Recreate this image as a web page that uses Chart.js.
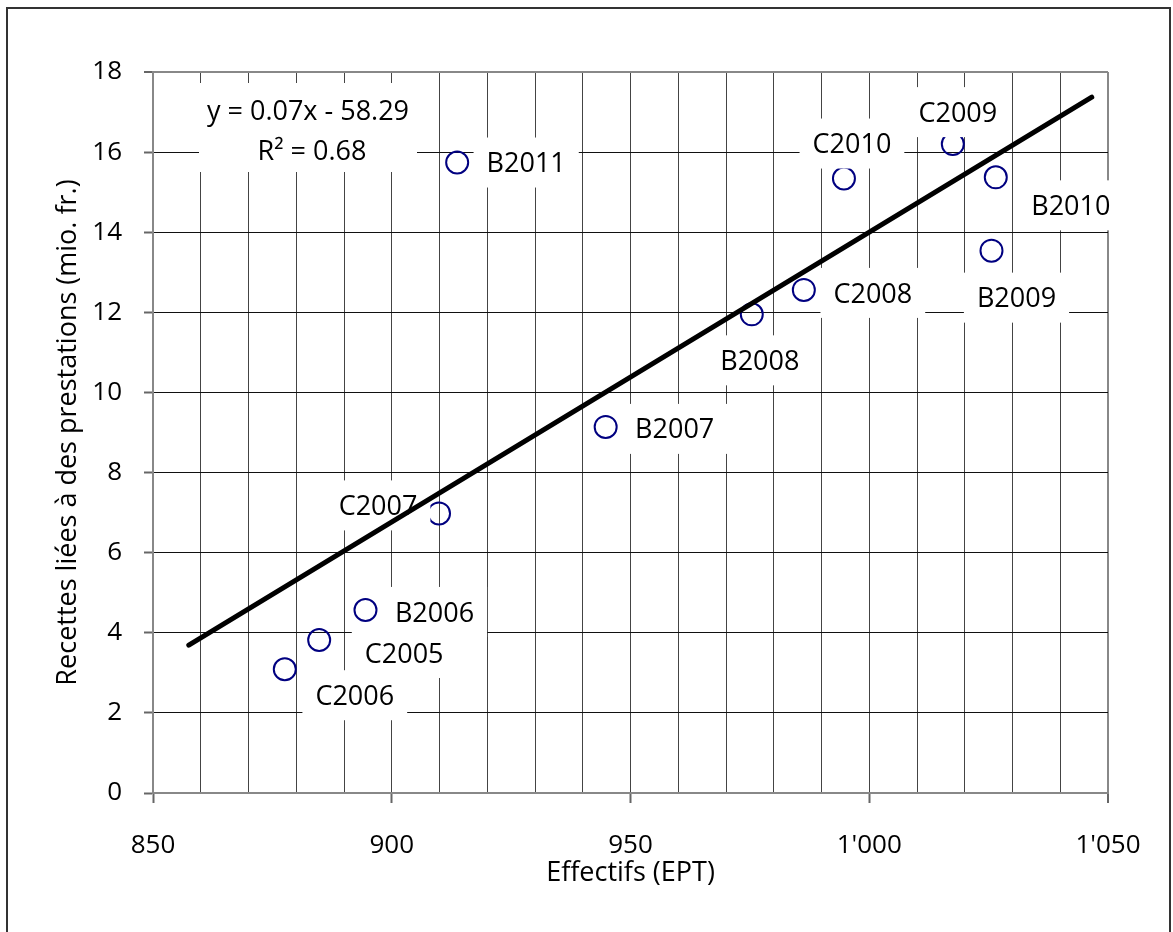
<!DOCTYPE html>
<html>
<head>
<meta charset="utf-8">
<script src="https://cdn.jsdelivr.net/npm/chart.js@4.4.1/dist/chart.umd.min.js"></script>
<style>
  html, body { margin: 0; padding: 0; background: #fff; }
  #wrap { width: 1173px; height: 932px; position: relative; }
</style>
</head>
<body>
<div id="wrap"><canvas id="chart" width="1173" height="932"></canvas></div>
<script>
// point names, effectifs (EPT) and recettes (mio. fr.)
const names = ['C2005', 'C2006', 'C2007', 'C2008', 'C2009', 'C2010',
               'B2006', 'B2007', 'B2008', 'B2009', 'B2010', 'B2011'];
const effectifs = [884.8, 877.6, 909.9, 986.3, 1017.5, 994.7,
                   894.5, 944.8, 975.4, 1025.6, 1026.5, 913.7];
const recettes = [3.82, 3.09, 6.98, 12.56, 16.20, 15.34,
                  4.57, 9.14, 11.95, 13.54, 15.37, 15.74];

// linear trend line end points
const trendX = [857.5, 1046.6];
const trendY = [3.69, 17.37];
const trendText = ['y = 0.07x - 58.29', 'R² = 0.68'];

const xTitle = 'Effectifs (EPT)';
const yTitle = 'Recettes liées à des prestations (mio. fr.)';

const FONT = '"Open Sans", "DejaVu Sans", sans-serif';

// where each label sits relative to its point (px)
const labelOffsets = {
    C2005: [85, 13], C2006: [70, 26], C2007: [-61, -8], C2008: [69, 3],
    C2009: [5, -32], C2010: [8, -35], B2006: [69, 2], B2007: [69, 2],
    B2008: [8, 46], B2009: [25, 47], B2010: [75, 28], B2011: [69, 0]
};

function fmtThousands(v) {
    const s = String(Math.round(v));
    return s.replace(/\B(?=(\d{3})+(?!\d))/g, "'");
}

function drawBoxedText(ctx, text, cx, cy) {
    ctx.font = '27px ' + FONT;
    const w = ctx.measureText(text).width;
    ctx.fillStyle = '#fff';
    ctx.fillRect(cx - w / 2 - 13, cy - 25, w + 26, 50);
    ctx.fillStyle = '#000';
    ctx.textAlign = 'center';
    ctx.textBaseline = 'alphabetic';
    ctx.fillText(text, cx, cy + 9.6);
}

const labelPlugin = {
    id: 'pointLabels',
    afterDatasetDraw(chart, args) {
        if (args.index !== 0) return;
        const ctx = chart.ctx;
        const meta = chart.getDatasetMeta(0);
        ctx.save();
        meta.data.forEach((pt, i) => {
            const off = labelOffsets[names[i]] || [60, 0];
            drawBoxedText(ctx, names[i], pt.x + off[0], pt.y + off[1]);
        });
        // regression equation box
        const a = chart.chartArea;
        ctx.fillStyle = '#fff';
        ctx.fillRect(a.left + 46, a.top + 11, 218, 89);
        ctx.fillStyle = '#000';
        ctx.font = '27px ' + FONT;
        ctx.textAlign = 'center';
        ctx.textBaseline = 'alphabetic';
        ctx.fillText(trendText[0], a.left + 155, a.top + 38 + 9.6);
        ctx.fillText(trendText[1], a.left + 159, a.top + 78 + 9.6);
        ctx.restore();
    }
};

const framePlugin = {
    id: 'frame',
    beforeDraw(chart) {
        const ctx = chart.ctx;
        ctx.save();
        ctx.fillStyle = '#fff';
        ctx.fillRect(0, 0, chart.width, chart.height);
        ctx.strokeStyle = '#333';
        ctx.lineWidth = 2;
        ctx.strokeRect(7, 8, 1163, 940);
        ctx.restore();
    }
};

const points = effectifs.map((x, i) => ({ x: x, y: recettes[i] }));
const trend = trendX.map((x, i) => ({ x: x, y: trendY[i] }));

new Chart(document.getElementById('chart').getContext('2d'), {
    type: 'scatter',
    data: {
        datasets: [{
            label: 'Recettes',
            data: points,
            pointStyle: 'circle',
            pointRadius: 11,
            pointHoverRadius: 11,
            borderWidth: 2,
            borderColor: '#000080',
            backgroundColor: 'rgba(255,255,255,0)',
            order: 2
        }, {
            type: 'line',
            label: 'Tendance',
            data: trend,
            borderColor: '#000',
            borderWidth: 5,
            borderCapStyle: 'round',
            pointRadius: 0,
            fill: false,
            order: 1
        }]
    },
    options: {
        responsive: false,
        animation: false,
        layout: { padding: { top: 72, right: 65, left: 0, bottom: 0 } },
        plugins: {
            legend: { display: false },
            tooltip: { enabled: false }
        },
        scales: {
            x: {
                type: 'linear',
                min: 850,
                max: 1050,
                afterFit(scale) { scale.height = 139; },
                border: { color: '#888', width: 2 },
                grid: {
                    color: c => (c.tick && (c.tick.value === 850 || c.tick.value === 1050)) ? '#888' : '#444',
                    lineWidth: c => (c.tick && c.tick.value === 1050) ? 2 : 1,
                    tickLength: 10,
                    tickColor: c => (c.tick && c.tick.value % 50 === 0) ? '#666' : 'rgba(0,0,0,0)',
                    tickWidth: 2
                },
                ticks: {
                    stepSize: 10,
                    autoSkip: false,
                    maxRotation: 0,
                    padding: 27,
                    color: '#000',
                    font: { family: FONT, size: 26 },
                    callback: v => (v % 50 === 0 ? fmtThousands(v) : '')
                },
                title: {
                    display: true,
                    text: xTitle,
                    color: '#000',
                    font: { family: FONT, size: 27 },
                    padding: { top: 0, bottom: 42 }
                }
            },
            y: {
                min: 0,
                max: 18,
                afterFit(scale) { scale.width = 153; },
                border: { color: '#888', width: 2 },
                grid: {
                    color: c => (c.tick && (c.tick.value === 0 || c.tick.value === 18)) ? '#888' : '#111',
                    lineWidth: c => (c.tick && c.tick.value === 18) ? 2 : 1,
                    tickLength: 9,
                    tickColor: '#666',
                    tickWidth: 2
                },
                ticks: {
                    stepSize: 2,
                    padding: 22,
                    color: '#000',
                    font: { family: FONT, size: 26 }
                },
                title: {
                    display: true,
                    text: yTitle,
                    color: '#000',
                    font: { family: FONT, size: 27 },
                    padding: { top: 52, bottom: 0 }
                }
            }
        }
    },
    plugins: [framePlugin, labelPlugin]
});
</script>
</body>
</html>
